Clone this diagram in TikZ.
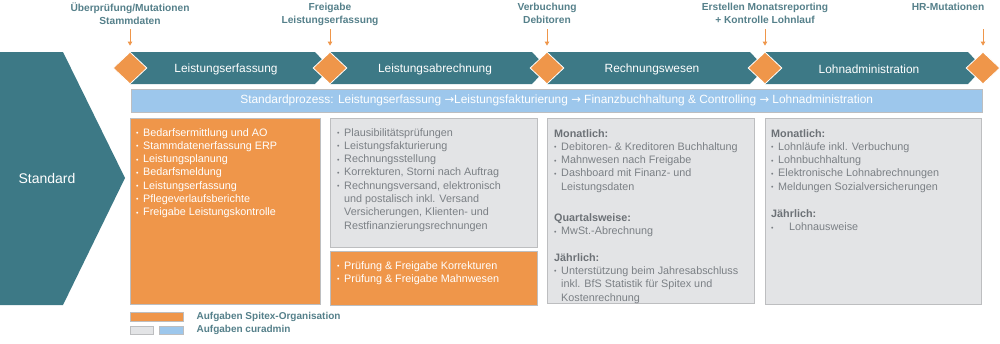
\documentclass[tikz,border=0pt]{standalone}
\usepackage{fontspec}
\setmainfont{Liberation Sans}
\newfontfamily\arrowfont{DejaVu Sans}
\usepackage{xcolor}
\usetikzlibrary{positioning,arrows.meta,shapes.geometric}
\definecolor{cateal}{HTML}{3D7986}
\definecolor{caorange}{HTML}{EF964A}
\definecolor{cablue}{HTML}{9DC7EC}
\definecolor{cagray}{HTML}{E3E4E6}
\definecolor{caedge}{HTML}{BDBEC0}
\definecolor{catext}{HTML}{7B8085}
\definecolor{cahead}{HTML}{6C7176}
\definecolor{calabel}{HTML}{55808A}
\newcommand{\bl}{\makebox[7pt][l]{\raisebox{0.6pt}{\fontsize{7}{7}\selectfont\textbullet}}}
\newcommand{\ind}{\hspace*{7pt}}
\newcommand{\hd}[1]{{\bfseries\color{cahead}#1}}
\newcommand{\ar}{{\arrowfont\fontsize{11.5}{13}\selectfont →}}

\begin{document}
\begin{tikzpicture}[x=1pt, y=-1pt,
  seg/.style={fill=cateal},
  seglbl/.style={text=white, font=\fontsize{11.9}{14}\selectfont},
  dia/.style={diamond, fill=caorange, draw=white, line width=0.8pt, inner sep=0pt,
              minimum width=34pt, minimum height=32pt},
  toplbl/.style={align=center, text=calabel, anchor=north, inner sep=0pt,
                 font=\bfseries\fontsize{10.2}{12.5}\selectfont},
  arr/.style={->, draw=caorange, line width=0.8pt, shorten >=6pt},
  obox/.style={draw=caedge, fill=caorange, anchor=north west, inner sep=0pt},
  gbox/.style={draw=caedge, fill=cagray, anchor=north west, inner sep=0pt},
  txt/.style={anchor=north west, inner sep=0pt, align=left,
              font=\fontsize{10.8}{13.3}\selectfont, text=#1},
  txt/.default=catext,
  leg/.style={text=calabel, anchor=west, inner sep=0pt, font=\bfseries\fontsize{10}{12}\selectfont},
  >={Triangle[length=4pt,width=4.5pt]}]
  \useasboundingbox (0,0) rectangle (1000,343);
  % left block
  \fill[cateal] (0,52) -- (63,52) -- (125,178) -- (63,305) -- (0,305) -- cycle;
  \node[text=white, font=\fontsize{14}{16}\selectfont] (stdname) at (47,178) {Standard};
  % row 1: the phases
  \foreach \a/\b in {130/330, 330/547, 547/765, 765/983}
    \fill[seg] (\a,52) -- (\b-15,52) -- (\b,68) -- (\b-15,84) -- (\a,84) -- cycle;
  \node[seglbl] (erf)  at (226,69) {Leistungserfassung};
  \node[seglbl] (abr)  at (435,69) {Leistungsabrechnung};
  \node[seglbl] (rw)   at (652,69) {Rechnungswesen};
  \node[seglbl] (lohn) at (869,69) {Lohnadministration};
  \foreach \x [count=\i] in {130,330,547,765,983} {
    \node[dia] (d\i) at (\x,68) {};
    \coordinate (t\i) at (\x,29);
    \draw[arr] (t\i) -- (d\i.north);
  }
  % milestones
  \node[toplbl] (m1) at (130,3) {Überprüfung/Mutationen\\Stammdaten};
  \node[toplbl] (m2) at (330,3) {Freigabe\\Leistungserfassung};
  \node[toplbl] (m3) at (547,3) {Verbuchung\\Debitoren};
  \node[toplbl] (m4) at (765,3) {Erstellen Monatsreporting\\+ Kontrolle Lohnlauf};
  \node[toplbl] (m5) at (948,3) {HR-Mutationen};
  % row 2: standard process bar
  \node[draw=caedge, fill=cablue, anchor=north west, minimum width=851pt, minimum height=23pt,
        text=white, font=\fontsize{11.9}{13}\selectfont] (proc) at (131,89)
    {Standardprozess: Leistungserfassung \ar Leistungsfakturierung \ar{} Finanzbuchhaltung \& Controlling \ar{} Lohnadministration};
  % row 3: tasks
  \node[obox, minimum width=190pt, minimum height=186pt] (b1) at (130,118) {};
  \node[gbox, minimum width=207pt, minimum height=129pt] (b2) at (330,118) {};
  \node[obox, minimum width=207pt, minimum height=54pt]  (b3) at (330,251) {};
  \node[gbox, minimum width=207pt, minimum height=185pt] (b4) at (547,118) {};
  \node[gbox, minimum width=216pt, minimum height=186pt] (b5) at (765,118) {};
  \node[txt=white, xshift=6pt, yshift=-10pt] at (b1.north west)
    {\bl Bedarfsermittlung und AO\\\bl Stammdatenerfassung ERP\\\bl Leistungsplanung\\
     \bl Bedarfsmeldung\\\bl Leistungserfassung\\\bl Pflegeverlaufsberichte\\
     \bl Freigabe Leistungskontrolle};
  \node[txt, xshift=7pt, yshift=-10pt] at (b2.north west)
    {\bl Plausibilitätsprüfungen\\\bl Leistungsfakturierung\\\bl Rechnungsstellung\\
     \bl Korrekturen, Storni nach Auftrag\\\bl Rechnungsversand, elektronisch\\
     \ind und postalisch inkl. Versand\\\ind Versicherungen, Klienten- und\\
     \ind Restfinanzierungsrechnungen};
  \node[txt=white, xshift=7pt, yshift=-10pt] at (b3.north west)
    {\bl Prüfung \& Freigabe Korrekturen\\\bl Prüfung \& Freigabe Mahnwesen};
  \node[txt, xshift=7pt, yshift=-11pt] at (b4.north west)
    {\hd{Monatlich:}\\\bl Debitoren- \& Kreditoren Buchhaltung\\\bl Mahnwesen nach Freigabe\\
     \bl Dashboard mit Finanz- und\\\ind Leistungsdaten\\[18pt]
     \hd{Quartalsweise:}\\\bl MwSt.-Abrechnung\\[13pt]
     \hd{Jährlich:}\\\bl Unterstützung beim Jahresabschluss\\\ind inkl. BfS Statistik für Spitex und\\
     \ind Kostenrechnung};
  \node[txt, xshift=6pt, yshift=-11pt] at (b5.north west)
    {\hd{Monatlich:}\\\bl Lohnläufe inkl. Verbuchung\\\bl Lohnbuchhaltung\\
     \bl Elektronische Lohnabrechnungen\\\bl Meldungen Sozialversicherungen\\[14pt]
     \hd{Jährlich:}\\\makebox[18pt][l]{\bl}Lohnausweise};
  % legend
  \node[obox, minimum width=53pt, minimum height=9pt] (lgo) at (130,312) {};
  \node[gbox, minimum width=23pt, minimum height=8pt] (lgg) at (130,326) {};
  \node[draw=caedge, fill=cablue, anchor=north west, inner sep=0pt, minimum width=24pt,
        minimum height=8pt] (lgb) at (159,326) {};
  \node[leg, right=13pt of lgo] (lgotxt) {Aufgaben Spitex-Organisation};
  \node[leg, right=13pt of lgb] (lgbtxt) {Aufgaben curadmin};
\end{tikzpicture}
\end{document}
